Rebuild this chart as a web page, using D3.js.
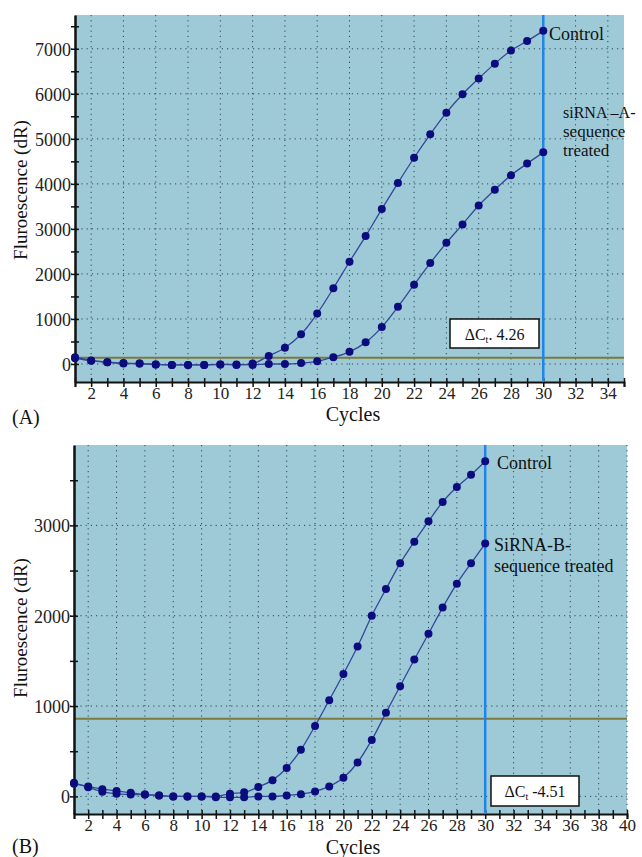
<!DOCTYPE html>
<meta charset="utf-8">
<style>
body { margin: 0; background: #fff; }
svg text { font-family: "Liberation Serif", "DejaVu Serif", serif !important; fill: #111; }
.grid line { stroke: #2c4656; stroke-width: 1; stroke-dasharray: 1.2 4; }
.axis path, .axis line { stroke: #111; }
.axis text { font-size: 17px; fill: #222; }
</style>
<body>
<script src="https://cdn.jsdelivr.net/npm/d3@7/dist/d3.min.js"></script>
<script>
// cycles 1..30 for both panels
var cycles = d3.range(1, 31);

// panel A values (dR)
var controlA = [150, 80, 40, 10, 10, -10, -20, -20, -20, -10, -20, 10, 180, 360, 660, 1120, 1680, 2270, 2840, 3440,
                4020, 4580, 5100, 5580, 5990, 6340, 6670, 6960, 7170, 7400];
var sirnaA   = [130, 70, 40, 20, 10, -10, -20, -20, -20, -10, -10, -20, 0, 0, 20, 60, 150, 270, 480, 820,
                1270, 1760, 2240, 2690, 3100, 3520, 3870, 4190, 4450, 4700];
var thresholdA = 140;

// panel B values (dR)
var controlB = [140, 110, 80, 60, 40, 20, 10, 0, 0, 0, 0, 30, 45, 105, 180, 315, 515, 780, 1065, 1355,
                1660, 2000, 2295, 2580, 2820, 3045, 3260, 3425, 3560, 3710];
var sirnaB   = [150, 100, 50, 30, 20, 20, 10, 0, 0, 0, -10, -10, -10, 0, 0, 10, 25, 55, 110, 205,
                375, 625, 925, 1220, 1515, 1800, 2090, 2355, 2580, 2800];
var thresholdB = 860;

var xTicksA = d3.range(2, 35, 2);
var xTicksB = d3.range(2, 41, 2);
var yTicksA = d3.range(0, 7001, 1000);
var yTicksB = d3.range(0, 3001, 1000);

var svg = d3.select("body").append("svg")
    .attr("width", 642)
    .attr("height", 857);

function panel(o) {
  var x = d3.scaleLinear().domain(o.xDomain).range([o.left, o.right]);
  var y = d3.scaleLinear().domain(o.yDomain).range([o.bottom, o.top]);
  var g = svg.append("g");

  // plot background
  g.append("rect")
      .attr("x", o.left).attr("y", o.top)
      .attr("width", o.right - o.left).attr("height", o.bottom - o.top)
      .attr("fill", "#9ecad8");

  // dotted grid
  var grid = g.append("g").attr("class", "grid");
  grid.selectAll(".v").data(o.xTicks).enter().append("line")
      .attr("x1", function(d) { return x(d); }).attr("x2", function(d) { return x(d); })
      .attr("y1", o.top).attr("y2", o.bottom);
  grid.selectAll(".h").data(o.yTicks).enter().append("line")
      .attr("x1", o.left - 4).attr("x2", o.right)
      .attr("y1", function(d) { return y(d); }).attr("y2", function(d) { return y(d); });

  // threshold
  g.append("line")
      .attr("x1", o.left).attr("x2", o.right)
      .attr("y1", y(o.threshold)).attr("y2", y(o.threshold))
      .attr("stroke", "#7d7a3c").attr("stroke-width", 2);

  // x axis
  var xa = g.append("g").attr("class", "axis")
      .attr("transform", "translate(0," + o.bottom + ")")
      .call(d3.axisBottom(x).tickValues(d3.range(o.xDomain[0], o.xDomain[1] + 1)).tickSize(5)
        .tickFormat(function(d) { return d % 2 === 0 ? d : ""; }));
  xa.attr("font-family", null).attr("font-size", null);
  xa.select(".domain").attr("stroke-width", 2);
  xa.selectAll(".tick line").attr("y1", -4).attr("y2", 5).attr("stroke-width", 1.5);
  xa.selectAll(".tick text").attr("dy", 0).attr("y", 17);

  // y axis
  var ya = g.append("g").attr("class", "axis")
      .attr("transform", "translate(" + o.left + ",0)")
      .call(d3.axisLeft(y).tickValues(d3.range(0, o.yDomain[1], 500)).tickSize(4).tickSizeOuter(0)
        .tickFormat(function(d) { return d % 1000 === 0 ? d : ""; }));
  ya.attr("font-family", null).attr("font-size", null);
  ya.select(".domain").attr("stroke-width", 2.5);
  ya.selectAll(".tick line").attr("x1", 4).attr("stroke-width", 1.5);
  ya.selectAll(".tick text").attr("x", -4).attr("dy", "0.35em").style("font-size", "18px");

  // vertical cycle marker
  g.append("line")
      .attr("x1", x(30)).attr("x2", x(30))
      .attr("y1", o.top).attr("y2", o.bottom)
      .attr("stroke", "#1f86e8").attr("stroke-width", 2.5);

  // curves
  var line = d3.line()
      .x(function(d, i) { return x(cycles[i]); })
      .y(function(d) { return y(d); })
      .curve(d3.curveMonotoneX);
  o.series.forEach(function(s) {
    g.append("path").datum(s)
        .attr("fill", "none").attr("stroke", "#33479a").attr("stroke-width", 1.3)
        .attr("d", line);
    g.selectAll(null).data(s).enter().append("circle")
        .attr("cx", function(d, i) { return x(cycles[i]); })
        .attr("cy", function(d) { return y(d); })
        .attr("r", 4)
        .attr("fill", "#0c0c7e");
  });

  // delta Ct box
  var b = o.box;
  g.append("rect")
      .attr("x", b.x).attr("y", b.y).attr("width", b.w).attr("height", b.h)
      .attr("fill", "#fff").attr("stroke", "#111").attr("stroke-width", 1.5);
  var t = g.append("text")
      .attr("x", b.x + b.w / 2).attr("y", b.y + b.h / 2 + 6)
      .attr("text-anchor", "middle").style("font-size", "16px");
  t.append("tspan").text("\u0394C");
  t.append("tspan").attr("dy", 3).style("font-size", "10px").text("t");
  t.append("tspan").attr("dy", -3).text(b.label);

  // series labels
  o.labels.forEach(function(l) {
    g.append("text").attr("x", l[0]).attr("y", l[1])
        .style("font-size", l[3] || "18px").text(l[2]);
  });

  // axis titles
  g.append("text")
      .attr("transform", "translate(" + 27 + "," + o.yTitleY + ") rotate(-90)")
      .attr("text-anchor", "middle").style("font-size", "19px")
      .text("Fluroescence (dR)");
  g.append("text")
      .attr("x", 353).attr("y", o.xTitleY)
      .attr("text-anchor", "middle").style("font-size", "20px")
      .text("Cycles");
  g.append("text")
      .attr("x", 12).attr("y", o.panelY)
      .style("font-size", "20px").text(o.panel);
}

panel({
  left: 75, right: 624, top: 15, bottom: 382,
  xDomain: [1, 35], yDomain: [-400, 7750],
  xTicks: xTicksA, yTicks: yTicksA,
  threshold: thresholdA,
  series: [controlA, sirnaA],
  box: {x: 450, y: 319, w: 89, h: 29, label: ". 4.26"},
  labels: [[549, 40, "Control"], [563, 118, "siRNA \u2013A-", "16px"], [563, 137, "sequence", "17px"], [563, 156, "treated", "17px"]],
  yTitleY: 190, xTitleY: 421, panelY: 424, panel: "(A)"
});

panel({
  left: 74, right: 627, top: 445, bottom: 814,
  xDomain: [1, 40], yDomain: [-195, 3890],
  xTicks: xTicksB, yTicks: yTicksB,
  threshold: thresholdB,
  series: [controlB, sirnaB],
  box: {x: 491, y: 776, w: 88, h: 30, label: " -4.51"},
  labels: [[497, 469, "Control"], [494, 551, "SiRNA-B-"], [494, 572, "sequence treated"]],
  yTitleY: 628, xTitleY: 854, panelY: 853, panel: "(B)"
});
</script>
